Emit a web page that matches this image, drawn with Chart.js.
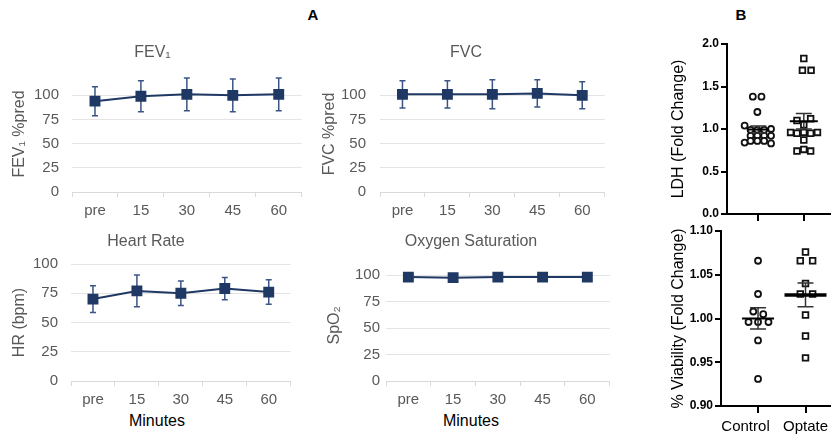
<!DOCTYPE html>
<html>
<head>
<meta charset="utf-8">
<script src="https://cdn.jsdelivr.net/npm/chart.js"></script>
<title>Lung function and cell assays</title>
<style>
	body { margin: 0; background: #fff; width: 836px; height: 437px; overflow: hidden; position: relative;
		font-family: 'Liberation Sans', Arial, sans-serif; }
	canvas { position: absolute; }
	.lbl { position: absolute; transform: translate(-50%, -50%); white-space: nowrap; color: #000; }
</style>
</head>
<body>

<div class="lbl" style="left:313px; top:14px; font-weight:bold; font-size:15px">A</div>
<div class="lbl" style="left:741px; top:14px; font-weight:bold; font-size:15px">B</div>
<div class="lbl" style="left:157px; top:421px; font-size:16px">Minutes</div>
<div class="lbl" style="left:471px; top:421px; font-size:16px">Minutes</div>

<canvas id="fev1" width="310" height="200" style="left:0px; top:30px"></canvas>
<canvas id="fvc" width="294" height="200" style="left:319px; top:30px"></canvas>
<canvas id="hr" width="306" height="216" style="left:-7px; top:215px"></canvas>
<canvas id="spo2" width="294" height="216" style="left:324px; top:215px"></canvas>
<canvas id="ldh" width="176" height="194" style="left:660px; top:30px"></canvas>
<canvas id="via" width="176" height="216" style="left:660px; top:220px"></canvas>

<script>
// panel A data (mean +/- SD)
var minutes = ['pre', '15', '30', '45', '60'];
var yTicksA = [0, 25, 50, 75, 100];

var fev1 = [94, 99, 101, 100, 101];
var fev1Err = [15, 16, 17, 17, 17];
var fvc = [101, 101, 101, 102, 100];
var fvcErr = [14, 14, 15, 14, 14];
var hr = [70, 77, 75, 79, 76];
var hrErr = [11.5, 13.5, 10.5, 9.5, 10.5];
var spo2 = [98, 97.5, 98, 98, 98];
var spo2Err = [1, 1, 1, 1, 1];

// panel B data, jitter = horizontal spread of the dots (category units)
var groups = ['Control', 'Optate'];
var ldhTicks = [0, 0.5, 1.0, 1.5, 2.0];
var viaTicks = [0.90, 0.95, 1.00, 1.05, 1.10];

var ldhControl = [1.38, 1.38, 1.20, 1.04, 0.99, 0.99, 0.99, 1.00, 0.92, 0.92, 0.92, 0.92, 0.84, 0.86, 0.86, 0.86, 0.83];
var ldhControlJit = [-0.12, 0.07, -0.02, -0.30, -0.17, -0.02, 0.13, 0.28, -0.17, -0.02, 0.13, 0.28, -0.30, -0.17, -0.02, 0.13, 0.28];
var ldhOptate = [1.83, 1.69, 1.69, 1.10, 1.12, 1.05, 0.96, 0.95, 0.96, 0.95, 0.96, 0.87, 0.74, 0.76, 0.74];
var ldhOptateJit = [0, -0.03, 0.16, -0.15, 0.15, 0, -0.29, -0.15, 0, 0.15, 0.30, 0, -0.15, 0, 0.15];

var viaControl = [1.066, 1.028, 1.008, 1.005, 0.996, 0.996, 0.996, 0.975, 0.931];
var viaControlJit = [0, 0, -0.10, 0.11, -0.20, 0, 0.22, 0, 0];
var viaOptate = [1.076, 1.066, 1.066, 1.040, 1.028, 1.028, 1.004, 0.980, 0.955];
var viaOptateJit = [0, -0.11, 0.15, 0, -0.11, 0.15, 0, 0, 0];

var gray = '#595959';
var navy = '#1f3864';
Chart.defaults.font.family = "'Liberation Sans', Arial, sans-serif";

// error bars for the line charts
var errorBars = {
	id: 'errorBars',
	beforeDatasetsDraw(chart) {
		var ctx = chart.ctx, y = chart.scales.y;
		chart.data.datasets.forEach(function (ds, i) {
			if (!ds.errors) return;
			var meta = chart.getDatasetMeta(i);
			ctx.save();
			ctx.strokeStyle = '#3a5584';
			ctx.lineWidth = 1.5;
			meta.data.forEach(function (pt, j) {
				var top = y.getPixelForValue(ds.data[j] + ds.errors[j]);
				var bot = y.getPixelForValue(ds.data[j] - ds.errors[j]);
				ctx.beginPath();
				ctx.moveTo(pt.x, top); ctx.lineTo(pt.x, bot);
				ctx.moveTo(pt.x - 3, top); ctx.lineTo(pt.x + 3, top);
				ctx.moveTo(pt.x - 3, bot); ctx.lineTo(pt.x + 3, bot);
				ctx.stroke();
			});
			ctx.restore();
		});
	}
};

function panelA(id, p) {
	new Chart(document.getElementById(id), {
		type: 'line',
		data: {
			labels: minutes,
			datasets: [{
				data: p.values, errors: p.errors,
				borderColor: navy, backgroundColor: navy, borderWidth: 2,
				pointStyle: 'rect', pointRadius: 6.3, pointBackgroundColor: navy, pointBorderColor: navy
			}]
		},
		options: {
			responsive: false, animation: false,
			layout: { padding: { right: p.padRight } },
			plugins: {
				legend: { display: false }, tooltip: { enabled: false },
				title: { display: true, text: p.title, color: gray, font: { size: 16, weight: 'normal' },
					padding: { top: p.tTop, bottom: p.tBottom } }
			},
			scales: {
				x: {
					offset: true,
					grid: { offset: true, drawOnChartArea: false, drawTicks: true, tickLength: 5, color: '#d9d9d9' },
					border: { display: true, color: '#d9d9d9' },
					ticks: { color: gray, font: { size: 15 }, padding: 5 },
					afterFit: function (s) { s.height = p.xHeight; }
				},
				y: {
					min: 0, max: p.max,
					grid: { color: '#e4e4e4', drawTicks: false },
					border: { display: false },
					afterBuildTicks: function (s) { s.ticks = yTicksA.map(function (v) { return { value: v }; }); },
					ticks: { color: gray, font: { size: 15 }, padding: p.tickPad },
					title: { display: true, text: p.yTitle, color: gray, font: { size: 16 }, padding: { top: p.yTitlePad, bottom: 0 } },
					afterFit: function (s) { s.width = p.yWidth; }
				}
			}
		},
		plugins: [errorBars]
	});
}

panelA('fev1', { values: fev1, errors: fev1Err, title: 'FEV\u2081', yTitle: 'FEV\u2081 %pred', max: 120,
	yWidth: 72, tickPad: 13, yTitlePad: 10.4, tTop: 13.4, tBottom: 13.4, xHeight: 38, padRight: 5 });
panelA('fvc', { values: fvc, errors: fvcErr, title: 'FVC', yTitle: 'FVC %pred', max: 120,
	yWidth: 61, tickPad: 14, yTitlePad: 0.7, tTop: 13.4, tBottom: 13.4, xHeight: 38, padRight: 0 });
panelA('hr', { values: hr, errors: hrErr, title: 'Heart Rate', yTitle: 'HR (bpm)', max: 100,
	yWidth: 78, tickPad: 13, yTitlePad: 17.4, tTop: 17.4, tBottom: 12.4, xHeight: 50, padRight: 0 });
panelA('spo2', { values: spo2, errors: spo2Err, title: 'Oxygen Saturation', yTitle: 'SpO\u2082', max: 105,
	yWidth: 62, tickPad: 6, yTitlePad: 1.4, tTop: 17.4, tBottom: 18.1, xHeight: 50, padRight: 0 });

// mean line and SEM bars for the dot plots
var meanSem = {
	id: 'meanSem',
	afterDatasetsDraw(chart) {
		var ctx = chart.ctx, xs = chart.scales.x, ys = chart.scales.y;
		chart.data.datasets.forEach(function (ds) {
			var v = ds.values, n = v.length;
			var m = v.reduce(function (a, b) { return a + b; }, 0) / n;
			var sd = Math.sqrt(v.reduce(function (a, b) { return a + (b - m) * (b - m); }, 0) / (n - 1));
			var sem = sd / Math.sqrt(n);
			var x = xs.getPixelForValue(ds.group);
			var ym = ys.getPixelForValue(m), yt = ys.getPixelForValue(m + sem), yb = ys.getPixelForValue(m - sem);
			ctx.save();
			ctx.strokeStyle = '#333';
			ctx.lineWidth = 1.5;
			ctx.beginPath();
			ctx.moveTo(x, yt); ctx.lineTo(x, yb);
			ctx.moveTo(x - 8, yt); ctx.lineTo(x + 8, yt);
			ctx.moveTo(x - 8, yb); ctx.lineTo(x + 8, yb);
			ctx.stroke();
			ctx.strokeStyle = '#000';
			ctx.lineWidth = ds.meanWidth;
			ctx.beginPath();
			ctx.moveTo(x - ds.meanHalf, ym); ctx.lineTo(x + ds.meanHalf, ym);
			ctx.stroke();
			ctx.restore();
		});
	}
};

function dots(values, jit, g, style, meanHalf, meanWidth) {
	return {
		data: values.map(function (v, i) { return { x: g + jit[i], y: v }; }),
		values: values, group: g, meanHalf: meanHalf, meanWidth: meanWidth,
		pointStyle: style, pointRadius: style === 'rect' ? 4 : 3, borderWidth: 1.8,
		pointBorderColor: '#111', pointBackgroundColor: '#fff'
	};
}

function panelB(id, p) {
	new Chart(document.getElementById(id), {
		type: 'scatter',
		data: { datasets: p.datasets },
		options: {
			responsive: false, animation: false,
			layout: { padding: { top: p.padTop, right: 0 } },
			plugins: { legend: { display: false }, tooltip: { enabled: false } },
			scales: {
				x: {
					type: 'linear', min: p.xMin, max: p.xMax,
					grid: { drawOnChartArea: false, drawTicks: true, tickLength: 7, color: '#000', lineWidth: 2 },
					border: { display: true, color: '#000', width: 2 },
					afterBuildTicks: function (s) { s.ticks = [{ value: 1 }, { value: 2 }]; },
					ticks: { display: p.showGroups, color: '#000', font: { size: 15 }, padding: 5,
						callback: function (v) { return v === 1 ? groups[0] + '\u00a0\u00a0\u00a0\u00a0\u00a0\u00a0' : groups[1]; } },
					afterFit: function (s) { s.height = p.xHeight; }
				},
				y: {
					min: p.yTicks[0], max: p.yTicks[p.yTicks.length - 1],
					grid: { drawOnChartArea: false, drawTicks: true, tickLength: 6, color: '#000', lineWidth: 2 },
					border: { display: true, color: '#000', width: 2 },
					afterBuildTicks: function (s) { s.ticks = p.yTicks.map(function (v) { return { value: v }; }); },
					ticks: { color: '#000', font: { size: 12, weight: 'bold' }, padding: 2,
						callback: function (v) { return v.toFixed(p.digits); } },
					title: { display: true, text: p.yTitle, color: '#000', font: { size: 16 }, padding: { top: 9.4, bottom: 0 } },
					afterFit: function (s) { s.width = p.yWidth; }
				}
			}
		},
		plugins: [meanSem]
	});
}

panelB('ldh', {
	datasets: [dots(ldhControl, ldhControlJit, 1, 'circle', 11, 2), dots(ldhOptate, ldhOptateJit, 2, 'rect', 14, 2)],
	yTicks: ldhTicks, digits: 1, yTitle: 'LDH (Fold Change)', showGroups: false,
	xMin: 0.3125, xMax: 2.58, padTop: 14, xHeight: 10, yWidth: 67
});
panelB('via', {
	datasets: [dots(viaControl, viaControlJit, 1, 'circle', 16, 2), dots(viaOptate, viaOptateJit, 2, 'rect', 21, 3.5)],
	yTicks: viaTicks, digits: 2, yTitle: '% Viability (Fold Change)', showGroups: true,
	xMin: 0.22, xMax: 2.52, padTop: 11, xHeight: 30, yWidth: 61
});
</script>
</body>
</html>
